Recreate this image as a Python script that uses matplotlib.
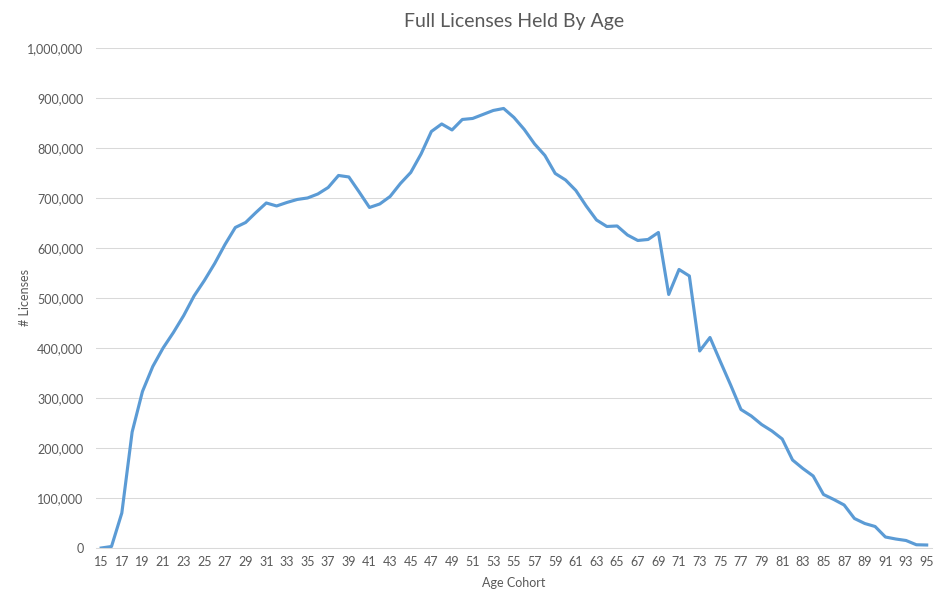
import matplotlib
matplotlib.use('Agg')
from matplotlib import pyplot as plt
from matplotlib.ticker import FuncFormatter

plt.rcParams['font.family'] = ['Lato', 'DejaVu Sans']

ages = list(range(15, 96))
licenses = [
    0, 3000, 70000, 232000, 313000, 363000, 400000, 431000, 465000, 504000,  # 15-24
    535000, 569000, 607000, 641000, 651000, 671000, 690000, 684000, 691000, 697000,  # 25-34
    700000, 708000, 721000, 745000, 742000, 712000, 681000, 688000, 703000, 729000,  # 35-44
    751000, 788000, 833000, 848000, 836000, 857000, 859000, 867000, 875000, 879000,  # 45-54
    861000, 837000, 808000, 785000, 749000, 736000, 715000, 684000, 656000, 643000,  # 55-64
    644000, 626000, 615000, 617000, 631000, 507000, 557000, 544000, 394000, 421000,  # 65-74
    373000, 326000, 277000, 264000, 247000, 234000, 218000, 176000, 159000, 144000,  # 75-84
    107000, 97000, 86000, 59000, 49000, 43000, 22000, 18000, 15000, 6500, 6000,  # 85-95
]

fig, ax = plt.subplots(figsize=(9.47, 6.07), dpi=100)
fig.subplots_adjust(left=0.1014, right=0.984, top=0.921, bottom=0.0972)

ax.plot(ages, licenses, color='#5B9BD5', lw=2.25, solid_joinstyle='round')

ax.set_xlim(14.5, 95.5)
ax.set_ylim(0, 1000000)
ax.set_xticks(ages[::2])
ax.set_yticks(range(0, 1000001, 100000))
ax.yaxis.set_major_formatter(FuncFormatter(lambda v, p: f'{int(v):,}'))

ax.grid(axis='y', color='#D9D9D9', lw=0.75)
ax.set_axisbelow(True)
for s in ['top', 'right', 'left']:
    ax.spines[s].set_visible(False)
ax.spines['bottom'].set_color('#D9D9D9')
ax.spines['bottom'].set_linewidth(0.75)
ax.tick_params(axis='both', length=0, labelsize=9, colors='#595959')
ax.tick_params(axis='y', pad=9)
ax.tick_params(axis='x', pad=6)

ax.set_title('Full Licenses Held By Age', fontsize=14, color='#595959', pad=15)
ax.set_xlabel('Age Cohort', fontsize=9, color='#595959', labelpad=6)
ax.set_ylabel('# Licenses', fontsize=9, color='#595959')
ax.yaxis.set_label_coords(-0.078, 0.5)

plt.savefig('out.png', dpi=100)
